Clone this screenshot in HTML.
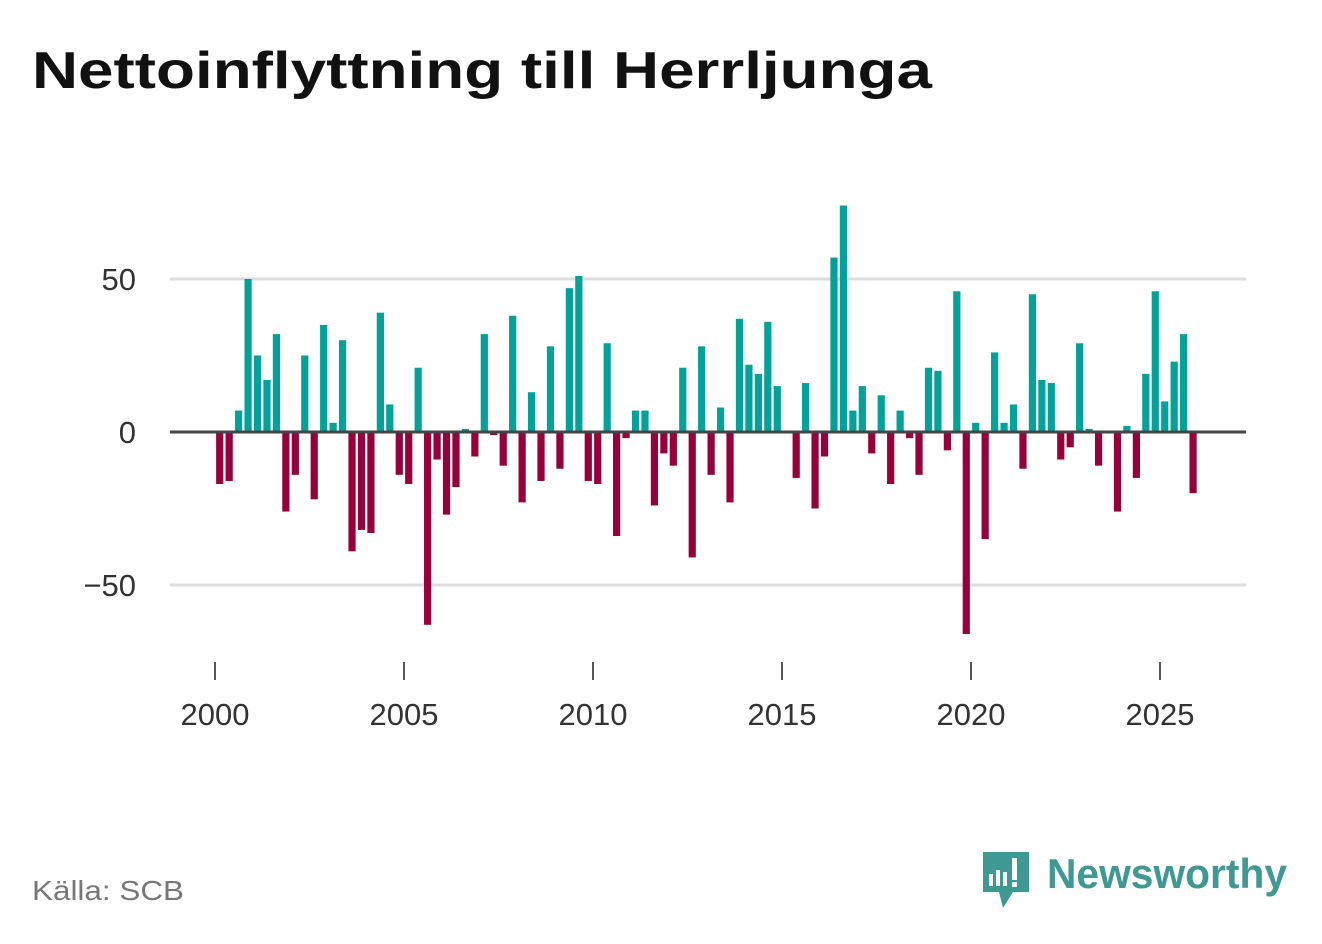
<!DOCTYPE html>
<html><head><meta charset="utf-8"><style>
body{margin:0;background:#fff;width:1322px;height:939px;overflow:hidden;font-family:"Liberation Sans",sans-serif}
</style></head><body>
<svg width="1322" height="939" xmlns="http://www.w3.org/2000/svg">
<text x="32" y="88" font-size="52" font-weight="bold" fill="#111" textLength="900" lengthAdjust="spacingAndGlyphs">Nettoinflyttning till Herrljunga</text>
<g id="grid"></g>
<g id="bars"></g>
<g id="axes"></g>
<text x="32" y="900" font-size="28" fill="#777" textLength="152" lengthAdjust="spacingAndGlyphs">Källa: SCB</text>
<g>
<path d="M983 852h46v40h-16l-10 16l-4-16h-16z" fill="#3d9991"/>
<rect x="989" y="874" width="4" height="12" fill="#fff"/><rect x="996" y="870" width="4" height="16" fill="#fff"/><rect x="1003" y="872" width="4" height="14" fill="#fff"/><rect x="1012" y="858" width="5" height="22" fill="#fff"/><rect x="1012" y="882" width="5" height="5" fill="#fff"/>
<text x="1047" y="888" font-size="42" font-weight="bold" fill="#3d9991" textLength="240" lengthAdjust="spacingAndGlyphs">Newsworthy</text>
</g>
</svg>
<script>
const values=[-17,-16,7,50, 25,17,32,-26, -14,25,-22,35, 3,30,-39,-32, -33,39,9,-14, -17,21,-63,-9, -27,-18,1,-8, 32,-1,-11,38, -23,13,-16,28, -12,47,51,-16, -17,29,-34,-2, 7,7,-24,-7, -11,21,-41,28, -14,8,-23,37, 22,19,36,15, 0,-15,16,-25, -8,57,74,7, 15,-7,12,-17, 7,-2,-14,21, 20,-6,46,-66, 3,-35,26,3, 9,-12,45,17, 16,-9,-5,29, 1,-11,0,-26, 2,-15,19,46, 10,23,32,-20];
const startYear=2000;
const yTicks=[50,0,-50];
const yTickLabels=["50","0","−50"];
const xTicks=[2000,2005,2010,2015,2020,2025];
const NS="http://www.w3.org/2000/svg";
const xs=y=>215+(y-2000)*37.8;
const ys=v=>432-v*3.06;
function mk(tag,attrs,parent){const e=document.createElementNS(NS,tag);for(const k in attrs)e.setAttribute(k,attrs[k]);document.getElementById(parent).appendChild(e);return e;}
yTicks.forEach((t,i)=>{
  if(t!==0){const l=mk('line',{x1:170,x2:1246,y1:ys(t),y2:ys(t),stroke:'#ddd','stroke-width':3},'grid');
  
  }
  const tx=mk('text',{x:136,y:ys(t)+11,'font-size':31,fill:'#333','text-anchor':'end'},'axes');
  tx.textContent=yTickLabels[i];
  
  
});
values.forEach((v,i)=>{
  const c=xs(startYear+i/4+0.125);
  const r=mk('rect',{x:c-3.6,y:Math.min(ys(v),432),width:7.2,height:Math.abs(ys(v)-432),fill:v>=0?'#00a299':'#970038'},'bars');
  
  
});
const z=mk('line',{x1:170,x2:1246,y1:432,y2:432,stroke:'#444','stroke-width':3},'axes');


xTicks.forEach(t=>{
  const l=mk('line',{x1:xs(t),x2:xs(t),y1:662,y2:680,stroke:'#555','stroke-width':2},'axes');
  
  
  const tx=mk('text',{x:xs(t),y:725,'font-size':31,fill:'#333','text-anchor':'middle'},'axes');
  tx.textContent=t;
  
  
});
</script>
</body></html>
